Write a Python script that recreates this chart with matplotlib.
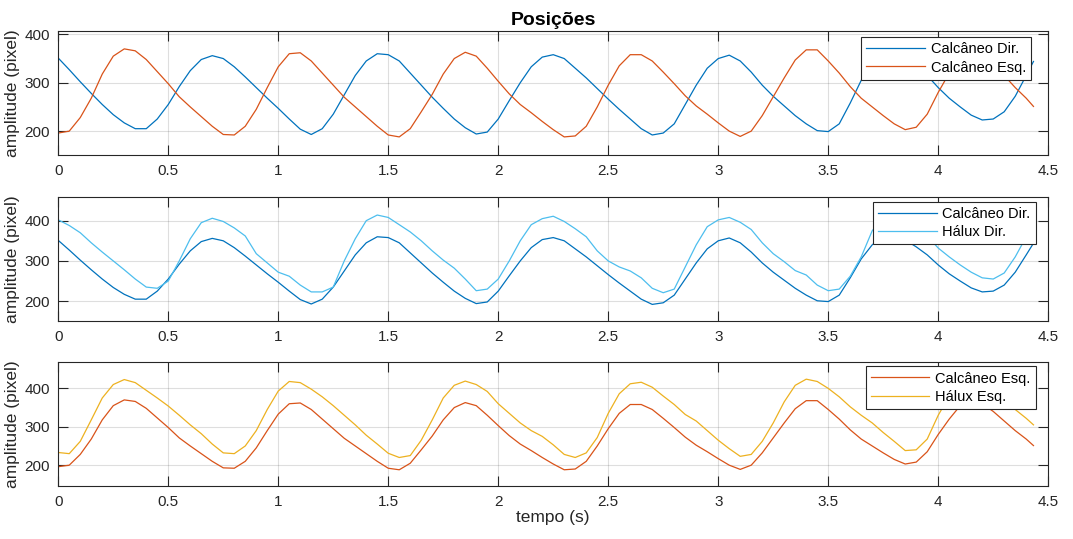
import numpy as np
import matplotlib.pyplot as plt

plt.rcParams['font.family'] = ['Liberation Sans', 'DejaVu Sans']

# posições lidas a cada 0.05 s (último ponto em 4.433 s)
calc_dir = [351, 327, 302, 278, 255, 234, 217, 205, 205, 225,
            255, 292, 325, 348, 356, 350, 333, 312, 290, 268,
            247, 225, 204, 193, 205, 235, 275, 315, 345, 360,
            358, 345, 320, 295, 270, 247, 225, 207, 194, 198,
            225, 263, 300, 333, 353, 358, 350, 330, 310, 288,
            266, 245, 225, 205, 192, 196, 215, 255, 295, 330,
            350, 357, 345, 322, 295, 272, 252, 232, 215, 201,
            199, 215, 258, 305, 340, 362, 363, 352, 335, 315,
            290, 268, 250, 233, 223, 225, 240, 272, 315, 344]

calc_esq = [196, 200, 228, 268, 318, 355, 370, 366, 348, 323,
            298, 271, 250, 230, 210, 193, 192, 210, 245, 290,
            333, 360, 362, 345, 320, 295, 270, 250, 230, 210,
            192, 188, 205, 240, 276, 318, 350, 363, 355, 330,
            303, 277, 255, 238, 220, 203, 188, 190, 210, 250,
            295, 335, 358, 358, 345, 322, 298, 273, 252, 235,
            217, 200, 189, 200, 232, 271, 310, 347, 368, 368,
            345, 320, 292, 268, 250, 232, 215, 203, 208, 235,
            280, 320, 355, 368, 360, 340, 315, 290, 268, 251]

halux_dir = [402, 388, 370, 345, 322, 300, 278, 255, 235, 232,
             250, 300, 355, 395, 406, 398, 382, 362, 318, 295,
             272, 262, 240, 223, 223, 235, 300, 355, 400, 414,
             408, 390, 372, 350, 325, 302, 282, 255, 226, 230,
             255, 300, 350, 390, 405, 411, 398, 380, 360, 325,
             300, 285, 275, 258, 232, 221, 230, 285, 340, 385,
             402, 408, 396, 378, 345, 318, 298, 276, 265, 240,
             226, 230, 262, 310, 375, 408, 414, 402, 385, 362,
             332, 310, 290, 272, 258, 255, 270, 310, 360, 400]

halux_esq = [233, 230, 262, 318, 375, 410, 423, 415, 395, 375,
             354, 330, 305, 282, 255, 232, 230, 250, 290, 345,
             393, 418, 415, 398, 378, 355, 330, 305, 278, 255,
             231, 220, 225, 265, 318, 375, 408, 419, 410, 392,
             360, 335, 310, 290, 275, 253, 228, 220, 232, 272,
             335, 386, 412, 416, 403, 380, 358, 332, 315, 290,
             265, 243, 223, 228, 262, 310, 365, 408, 424, 418,
             400, 378, 352, 330, 310, 285, 262, 238, 240, 268,
             330, 380, 410, 418, 405, 385, 365, 345, 322, 305]

tempo = np.r_[np.arange(len(calc_dir) - 1) * 0.05, 4.433]

azul = '#0072BD'
laranja = '#D95319'
amarelo = '#EDB120'
ciano = '#4DBEEE'
cinza = '#262626'

paineis = [
    ([(calc_dir, azul, 'Calcâneo Dir.'), (calc_esq, laranja, 'Calcâneo Esq.')], (150, 408), 0.7119, 0.947),
    ([(calc_dir, azul, 'Calcâneo Dir.'), (halux_dir, ciano, 'Hálux Dir.')], (150, 460), 0.4039, 0.96),
    ([(calc_esq, laranja, 'Calcâneo Esq.'), (halux_esq, amarelo, 'Hálux Esq.')], (145, 470), 0.0978, 0.96),
]

fig = plt.figure(figsize=(10.73, 5.39), dpi=100)

for i, (series, ylim, bottom, leg_y) in enumerate(paineis):
    ax = fig.add_axes([0.0543, bottom, 0.9226, 0.2315])
    for vals, cor, nome in series:
        ax.plot(tempo, vals, color=cor, lw=0.9, label=nome)
    ax.set_xlim(0, 4.5)
    ax.set_ylim(*ylim)
    ax.set_xticks(np.arange(0, 4.51, 0.5))
    ax.set_xticklabels(['0', '0.5', '1', '1.5', '2', '2.5', '3', '3.5', '4', '4.5'])
    ax.set_yticks([200, 300, 400])
    ax.grid(True, color='#262626', alpha=0.15, lw=0.8)
    ax.tick_params(direction='in', top=True, right=True, length=7, width=0.8,
                   colors=cinza, labelsize=11, pad=6)
    for sp in ax.spines.values():
        sp.set_color(cinza)
        sp.set_linewidth(0.8)
    ax.set_ylabel('amplitude (pixel)', fontsize=12.5, color=cinza, labelpad=3)
    leg = ax.legend(loc='upper right', bbox_to_anchor=(0.9873 if i else 0.9825, leg_y),
                    fontsize=10.5, handlelength=4.0, fancybox=False, framealpha=1,
                    borderpad=0.35, labelspacing=0.3, handletextpad=0.4,
                    borderaxespad=0)
    leg.get_frame().set_edgecolor(cinza)
    leg.get_frame().set_linewidth(0.8)
    if i == 0:
        ax.set_title('Posições', fontsize=14, fontweight='bold', pad=4)
    if i == 2:
        ax.set_xlabel('tempo (s)', fontsize=12.5, color=cinza, labelpad=1)

fig.savefig('out.png', dpi=100)
